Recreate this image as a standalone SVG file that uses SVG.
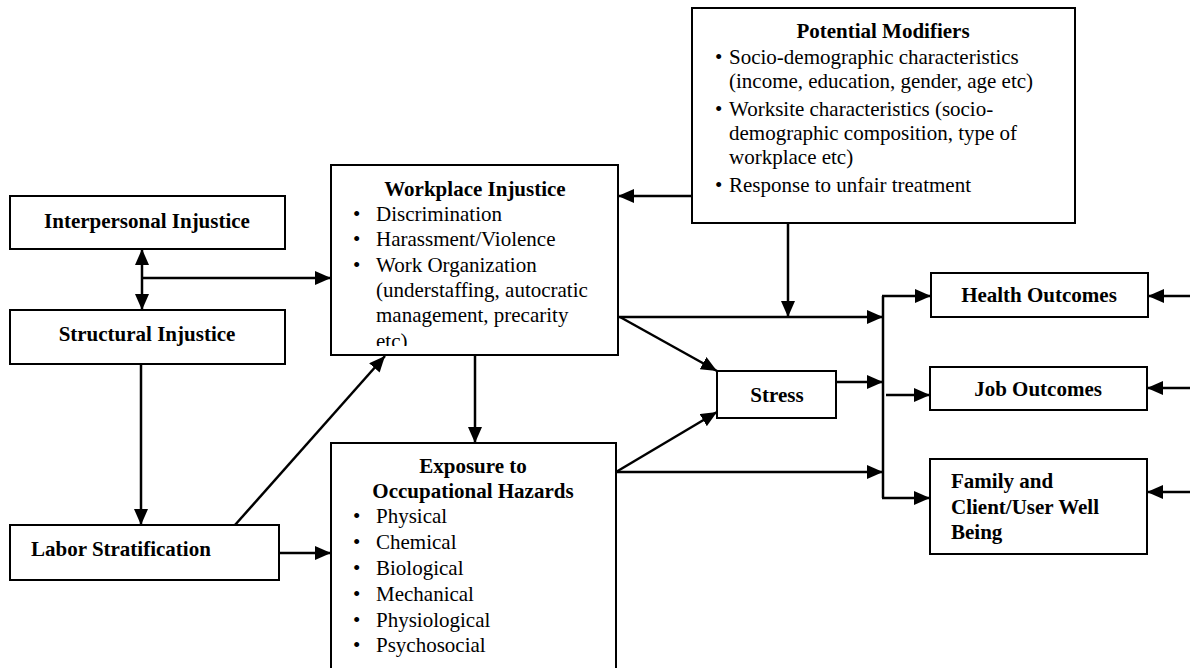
<svg xmlns="http://www.w3.org/2000/svg" width="1190" height="668" viewBox="0 0 1190 668">
<style>
.box{fill:#fff;stroke:#000;stroke-width:2}
.t{font-family:"Liberation Serif","Times New Roman",serif;font-size:21px;fill:#000}
.b{font-weight:bold}
.c{text-anchor:middle}
.ln{stroke:#000;stroke-width:2.5;fill:none}
.a{marker-end:url(#ah)}
</style>
<defs>
<marker id="ah" markerUnits="userSpaceOnUse" markerWidth="16" markerHeight="14" refX="16" refY="7" orient="auto-start-reverse" viewBox="0 0 16 14">
<path d="M0,0 L16,7 L0,14 z" fill="#000"/>
</marker>
<clipPath id="wclip"><rect x="331" y="165" width="287" height="181"/></clipPath>
</defs>
<rect width="1190" height="668" fill="#fff"/>

<g id="connectors">
<line class="ln a" x1="142" y1="249" x2="142" y2="310" style="marker-start:url(#ah)"/>
<line class="ln a" x1="142" y1="278" x2="331" y2="278"/>
<line class="ln a" x1="141" y1="364" x2="141" y2="525"/>
<line class="ln a" x1="235" y1="525" x2="385" y2="356"/>
<line class="ln a" x1="279" y1="553" x2="331" y2="553"/>
<line class="ln a" x1="475" y1="355" x2="475" y2="443"/>
<line class="ln a" x1="692" y1="196" x2="618" y2="196"/>
<line class="ln a" x1="788" y1="223" x2="788" y2="317"/>
<line class="ln a" x1="618" y1="317" x2="883" y2="317"/>
<line class="ln a" x1="620" y1="317" x2="717" y2="371"/>
<line class="ln a" x1="616" y1="472" x2="717" y2="412"/>
<line class="ln a" x1="616" y1="472" x2="883" y2="472"/>
<line class="ln a" x1="836" y1="382" x2="883" y2="382"/>
<line class="ln" x1="883" y1="296" x2="883" y2="498"/>
<line class="ln a" x1="882" y1="296" x2="931" y2="296"/>
<line class="ln a" x1="886" y1="395" x2="930" y2="395"/>
<line class="ln a" x1="882" y1="498" x2="930" y2="498"/>
<line class="ln a" x1="1190" y1="296" x2="1148" y2="296"/>
<line class="ln a" x1="1190" y1="388" x2="1147" y2="388"/>
<line class="ln a" x1="1190" y1="492" x2="1147" y2="492"/>
</g>

<g id="interpersonal">
<rect class="box" x="10" y="196" width="275" height="53"/>
<text class="t b c" x="147" y="228">Interpersonal Injustice</text>
</g>

<g id="structural">
<rect class="box" x="10" y="310" width="275" height="54"/>
<text class="t b c" x="147" y="341">Structural Injustice</text>
</g>

<g id="labor">
<rect class="box" x="10" y="525" width="269" height="55"/>
<text class="t b" x="31" y="556">Labor Stratification</text>
</g>

<g id="workplace">
<rect class="box" x="331" y="165" width="287" height="190"/>
<g clip-path="url(#wclip)">
<text class="t b c" x="475" y="196">Workplace Injustice</text>
<text class="t" x="353" y="221">•</text><text class="t" x="376" y="221">Discrimination</text>
<text class="t" x="353" y="246">•</text><text class="t" x="376" y="246">Harassment/Violence</text>
<text class="t" x="353" y="272">•</text><text class="t" x="376" y="272">Work Organization</text>
<text class="t" x="376" y="297">(understaffing, autocratic</text>
<text class="t" x="376" y="322">management, precarity</text>
<text class="t" x="376" y="348">etc)</text>
</g>
</g>

<g id="exposure">
<rect class="box" x="331" y="443" width="285" height="230"/>
<text class="t b c" x="473" y="473">Exposure to</text>
<text class="t b c" x="473" y="498">Occupational Hazards</text>
<text class="t" x="353" y="523">•</text><text class="t" x="376" y="523">Physical</text>
<text class="t" x="353" y="549">•</text><text class="t" x="376" y="549">Chemical</text>
<text class="t" x="353" y="575">•</text><text class="t" x="376" y="575">Biological</text>
<text class="t" x="353" y="601">•</text><text class="t" x="376" y="601">Mechanical</text>
<text class="t" x="353" y="627">•</text><text class="t" x="376" y="627">Physiological</text>
<text class="t" x="353" y="652">•</text><text class="t" x="376" y="652">Psychosocial</text>
</g>

<g id="modifiers">
<rect class="box" x="692" y="8" width="383" height="215"/>
<text class="t b c" x="883" y="38">Potential Modifiers</text>
<text class="t" x="715" y="64">•</text><text class="t" x="729" y="64">Socio-demographic characteristics</text>
<text class="t" x="729" y="88">(income, education, gender, age etc)</text>
<text class="t" x="715" y="116">•</text><text class="t" x="729" y="116">Worksite characteristics (socio-</text>
<text class="t" x="729" y="140">demographic composition, type of</text>
<text class="t" x="729" y="164">workplace etc)</text>
<text class="t" x="715" y="192">•</text><text class="t" x="729" y="192">Response to unfair treatment</text>
</g>

<g id="stress">
<rect class="box" x="717" y="371" width="119" height="47"/>
<text class="t b c" x="777" y="402">Stress</text>
</g>

<g id="health">
<rect class="box" x="931" y="273" width="217" height="44"/>
<text class="t b c" x="1039" y="302">Health Outcomes</text>
</g>

<g id="job">
<rect class="box" x="930" y="367" width="217" height="43"/>
<text class="t b c" x="1038" y="396">Job Outcomes</text>
</g>

<g id="family">
<rect class="box" x="930" y="459" width="217" height="95"/>
<text class="t b" x="951" y="488">Family and</text>
<text class="t b" x="951" y="514">Client/User Well</text>
<text class="t b" x="951" y="539">Being</text>
</g>
</svg>
